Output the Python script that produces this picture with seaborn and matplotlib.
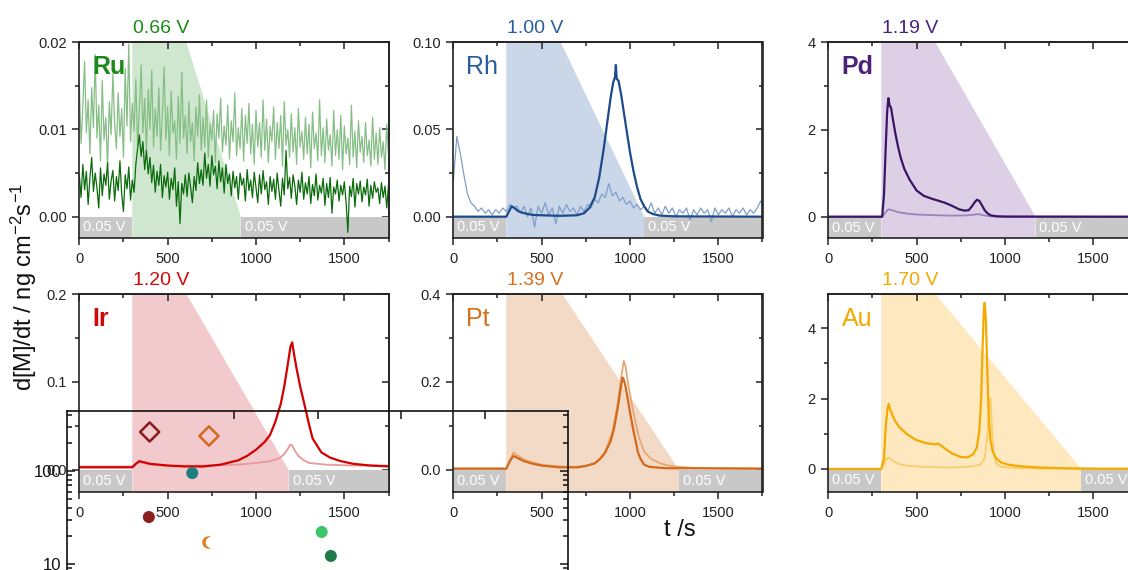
import numpy as np
import matplotlib.pyplot as plt
from matplotlib.path import Path
from matplotlib.ticker import MultipleLocator, FixedLocator, LogLocator, FuncFormatter, NullFormatter, FormatStrFormatter
import seaborn as sns

# ---------------------------------------------------------------- data
elements = ['Ru', 'Rh', 'Pd', 'Ir', 'Pt', 'Au']
upper_potential = ['0.66 V', '1.00 V', '1.19 V', '1.20 V', '1.39 V', '1.70 V']
hold_label = '0.05 V'
step_start = 300                                   # s
ramp_top_time = [606, 608, 606, 606, 617, 606]      # s, where ramp leaves the frame top
ramp_end_time = [914, 1080, 1173, 1185, 1278, 1433]  # s, back at 0.05 V

# Ru traces, sampled every 10 s from 0 to 1760 s (values in 1e-3 ng cm-2 s-1)
t_ru = np.arange(0, 1761, 10)
ru_dark = np.array([
    4.8, 2.2, 6.0, 3.1, 5.2, 1.4, 4.4, 6.8, 2.9, 5.0,
    3.3, 1.0, 5.6, 2.4, 4.9, 3.6, 6.2, 2.0, 4.1, 5.3,
    1.8, 4.6, 3.0, 6.4, 2.6, 0.6, 4.8, 3.2, 5.7, 1.9,
    4.2, 2.8, 6.0, 7.8, 9.4, 6.9, 8.6, 5.4, 7.6, 4.9,
    6.8, 3.9, 5.9, 2.8, 5.2, 3.6, 6.0, 2.2, 4.7, 3.4,
    5.1, 2.0, 4.4, 3.1, 5.6, 1.2, 4.0, -0.8, 3.8, 2.6,
    4.8, 2.3, 5.0, 3.4, 1.6, 4.6, 3.0, 6.2, 3.8, 5.4,
    3.6, 7.3, 4.4, 6.0, 3.5, 7.0, 4.8, 5.8, 3.2, 6.4,
    4.0, 5.6, 2.7, 6.0, 3.8, 4.9, 2.4, 5.2, 3.3, 4.6,
    2.0, 5.0, 3.6, 4.4, 1.8, 5.4, 3.0, 4.2, 2.2, 5.1,
    3.4, 1.6, 4.8, 2.6, 5.3, 3.1, 4.0, 1.4, 4.6, 2.9,
    4.3, 2.0, 5.0, 3.0, 1.2, 4.4, 2.5, 7.6, 3.2, 4.5,
    2.1, 4.8, 3.5, 1.4, 4.2, 2.8, 5.1, 2.0, 3.9, 2.6,
    4.6, 1.5, 3.7, 2.4, 4.9, 1.9, 3.6, 2.7, 4.4, 1.3,
    3.8, 2.2, 4.5, 0.4, 3.4, 2.6, 4.2, 1.8, 3.6, 2.5,
    4.0, 1.6, -1.8, 3.5, 2.3, 4.4, 1.1, 3.8, 2.6, 4.1,
    1.7, 3.4, 2.5, 4.3, 1.2, 3.6, 2.1, 4.0, 2.8, 3.3,
    1.5, 3.9, 2.2, 3.5, 1.0, 3.6, 2.4]) * 1e-3
ru_light = np.array([
    15.2, 8.4, 12.6, 17.8, 9.6, 13.4, 7.2, 14.8, 10.2, 18.6,
    9.0, 12.8, 6.4, 15.6, 8.8, 11.4, 5.8, 13.2, 9.4, 16.4,
    10.6, 7.8, 14.2, 9.2, 12.4, 6.8, 17.0, 10.4, 19.8, 8.6,
    13.0, 9.8, 15.8, 8.2, 12.2, 17.4, 9.6, 13.6, 7.4, 14.6,
    10.0, 16.8, 8.0, 12.4, 9.2, 14.8, 7.6, 11.8, 17.2, 8.8,
    12.6, 7.0, 14.4, 9.6, 11.0, 6.6, 13.8, 8.4, 16.6, 9.0,
    11.6, 7.2, 13.2, 8.6, 10.8, 6.4, 12.6, 9.2, 14.0, 7.6,
    11.4, 8.0, 13.4, 6.8, 10.6, 8.8, 12.2, 6.2, 11.8, 9.0,
    13.6, 7.4, 10.4, 8.2, 12.8, 6.6, 11.0, 8.6, 14.2, 7.0,
    10.2, 7.8, 12.4, 6.4, 11.6, 8.4, 13.0, 7.2, 10.6, 6.0,
    12.2, 8.0, 10.8, 6.8, 13.4, 7.6, 11.2, 6.2, 10.4, 8.6,
    12.6, 6.6, 10.8, 7.8, 11.6, 5.8, 13.2, 8.2, 10.0, 6.8,
    11.8, 7.4, 10.2, 6.0, 12.4, 8.0, 9.8, 6.6, 11.4, 7.2,
    10.6, 5.6, 12.0, 7.8, 9.6, 6.4, 13.4, 7.0, 10.2, 6.2,
    11.2, 7.6, 9.4, 5.8, 12.2, 7.0, 10.0, 6.6, 11.6, 5.4,
    10.4, 7.2, 9.0, 6.0, 12.8, 6.8, 9.8, 5.6, 11.0, 7.4,
    9.2, 6.2, 10.8, 7.0, 8.8, 5.8, 11.4, 6.6, 9.6, 6.0,
    10.2, 6.8, 8.6, 5.4, 10.6, 7.0, 9.2]) * 1e-3

# Rh faint trace, every 20 s
t_rh = np.arange(0, 1761, 20)
rh_light = np.array([
    0.020, 0.046, 0.036, 0.024, 0.013, 0.008, 0.006, 0.003, 0.005, 0.002, 0.004, 0.001,
    0.004, 0.002, 0.005, 0.003, 0.007, 0.005, 0.006, 0.002, 0.006, 0.000, 0.005, -0.006,
    0.006, 0.002, 0.008, 0.001, 0.005, -0.004, 0.006, 0.002, 0.007, 0.003, 0.005, 0.001,
    0.006, 0.003, 0.007, 0.005, 0.010, 0.008, 0.013, 0.011, 0.019, 0.012, 0.014, 0.009,
    0.011, 0.007, 0.009, 0.005, 0.007, 0.004, 0.006, 0.003, 0.008, 0.002, 0.005, 0.001,
    0.006, 0.002, 0.005, 0.000, 0.004, 0.002, 0.005, -0.002, 0.004, 0.001, 0.005, 0.002,
    0.004, -0.003, 0.005, 0.001, 0.004, 0.002, 0.005, 0.000, 0.004, 0.002, 0.005, 0.001,
    0.004, 0.002, 0.005, 0.009, 0.003])

# smooth traces: (time, value)
rh_dark_t = [0, 300, 315, 330, 345, 370, 400, 450, 500, 600, 700, 740, 770, 800, 825, 850, 870,
             890, 905, 915, 920, 925, 935, 950, 965, 980, 1000, 1020, 1040, 1060, 1080, 1100,
             1130, 1170, 1250, 1760]
rh_dark_v = [0, 0, 0.003, 0.006, 0.005, 0.003, 0.002, 0.001, 0.0008, 0.0005, 0.0008, 0.002,
             0.005, 0.011, 0.022, 0.038, 0.053, 0.068, 0.077, 0.080, 0.087, 0.079, 0.078,
             0.070, 0.060, 0.050, 0.037, 0.026, 0.017, 0.010, 0.006, 0.003, 0.0015, 0.0006,
             0.0002, 0]

pd_dark_t = [0, 305, 315, 325, 333, 340, 347, 355, 365, 380, 395, 410, 430, 460, 500, 540, 580,
             620, 660, 700, 740, 770, 795, 815, 830, 842, 855, 870, 885, 900, 920, 950, 1000, 1760]
pd_dark_v = [0, 0, 0.5, 1.6, 2.4, 2.72, 2.55, 2.5, 2.25, 1.9, 1.6, 1.35, 1.1, 0.85, 0.6, 0.48,
             0.42, 0.37, 0.32, 0.25, 0.17, 0.14, 0.15, 0.25, 0.34, 0.39, 0.36, 0.26, 0.15, 0.08,
             0.03, 0.01, 0.003, 0]
pd_light_t = [0, 305, 320, 340, 360, 400, 450, 500, 600, 700, 780, 830, 850, 880, 920, 1000, 1760]
pd_light_v = [0, 0, 0.08, 0.17, 0.15, 0.10, 0.07, 0.05, 0.035, 0.025, 0.03, 0.05, 0.06, 0.03,
              0.01, 0.0, 0]

ir_dark_t = [0, 300, 320, 340, 360, 400, 450, 500, 600, 700, 800, 900, 950, 1000, 1050, 1080,
             1110, 1140, 1160, 1180, 1195, 1205, 1215, 1230, 1250, 1270, 1300, 1320, 1370, 1420,
             1480, 1550, 1650, 1760]
ir_dark_v = [0.003, 0.003, 0.007, 0.010, 0.009, 0.007, 0.006, 0.005, 0.004, 0.004, 0.006, 0.011,
             0.016, 0.023, 0.032, 0.040, 0.055, 0.075, 0.095, 0.120, 0.140, 0.145, 0.132, 0.115,
             0.095, 0.078, 0.052, 0.036, 0.020, 0.014, 0.010, 0.007, 0.005, 0.004]
ir_light_t = [0, 300, 320, 340, 360, 400, 500, 700, 900, 1000, 1080, 1130, 1160, 1180, 1195,
              1205, 1220, 1240, 1270, 1300, 1400, 1550, 1760]
ir_light_v = [0.004, 0.004, 0.007, 0.009, 0.008, 0.006, 0.005, 0.005, 0.006, 0.008, 0.010,
              0.013, 0.018, 0.024, 0.029, 0.028, 0.022, 0.016, 0.011, 0.008, 0.006, 0.005, 0.005]

pt_dark_t = [0, 300, 320, 340, 360, 400, 450, 500, 600, 700, 750, 800, 830, 860, 890, 910, 930,
             945, 958, 965, 975, 990, 1005, 1020, 1035, 1045, 1060, 1080, 1110, 1200, 1760]
pt_dark_v = [0.003, 0.003, 0.020, 0.032, 0.028, 0.020, 0.014, 0.010, 0.006, 0.006, 0.009,
             0.015, 0.025, 0.040, 0.065, 0.095, 0.140, 0.180, 0.210, 0.205, 0.190, 0.155,
             0.120, 0.088, 0.060, 0.040, 0.025, 0.012, 0.007, 0.004, 0.003]
pt_light_t = [0, 300, 320, 340, 360, 400, 450, 500, 600, 700, 750, 800, 850, 900, 930, 950, 965,
              975, 990, 1010, 1030, 1050, 1080, 1120, 1170, 1220, 1280, 1350, 1450, 1760]
pt_light_v = [0.003, 0.003, 0.022, 0.040, 0.034, 0.024, 0.017, 0.012, 0.008, 0.007, 0.010,
              0.015, 0.032, 0.085, 0.150, 0.210, 0.248, 0.235, 0.195, 0.150, 0.110, 0.075,
              0.042, 0.025, 0.015, 0.010, 0.007, 0.005, 0.004, 0.003]

au_dark_t = [0, 300, 315, 325, 335, 342, 350, 365, 380, 400, 425, 450, 500, 550, 600, 620, 640,
             660, 700, 750, 790, 820, 840, 855, 865, 873, 880, 885, 892, 900, 908, 918, 930,
             950, 980, 1020, 1100, 1200, 1350, 1500, 1760]
au_dark_v = [0, 0, 0.3, 1.2, 1.7, 1.85, 1.7, 1.5, 1.35, 1.2, 1.08, 0.97, 0.82, 0.74, 0.70, 0.72,
             0.66, 0.58, 0.44, 0.34, 0.33, 0.42, 0.6, 1.1, 2.0, 3.4, 4.5, 4.72, 4.2, 2.8, 1.5,
             0.8, 0.5, 0.3, 0.18, 0.12, 0.07, 0.04, 0.02, 0.01, 0.005]
au_light_t = [0, 300, 315, 330, 345, 370, 400, 450, 500, 600, 700, 800, 860, 885, 900, 910, 918,
              926, 935, 950, 980, 1050, 1200, 1760]
au_light_v = [0, 0, 0.12, 0.30, 0.32, 0.22, 0.14, 0.09, 0.07, 0.05, 0.04, 0.07, 0.12, 0.3, 0.9,
              1.8, 2.0, 1.2, 0.5, 0.15, 0.06, 0.03, 0.01, 0.0]

traces = {
    'Ru': [(t_ru, ru_light, 'light'), (t_ru, ru_dark, 'dark')],
    'Rh': [(t_rh, rh_light, 'light'), (rh_dark_t, rh_dark_v, 'dark')],
    'Pd': [(pd_light_t, pd_light_v, 'light'), (pd_dark_t, pd_dark_v, 'dark')],
    'Ir': [(ir_light_t, ir_light_v, 'light'), (ir_dark_t, ir_dark_v, 'dark')],
    'Pt': [(pt_light_t, pt_light_v, 'light'), (pt_dark_t, pt_dark_v, 'dark')],
    'Au': [(au_light_t, au_light_v, 'light'), (au_dark_t, au_dark_v, 'dark')],
}

# overlaid log-scale fragment
inset_open_x = [0.99, 1.70]
inset_open_y = [263, 238]
inset_open_names = ['a', 'b']
inset_dot_x = [1.50, 0.98, 3.05, 3.16]
inset_dot_y = [95, 32, 22.1, 12.2]
inset_dot_names = ['c', 'd', 'e', 'f']
inset_moon_x = [1.69]
inset_moon_y = [17.3]

# ---------------------------------------------------------------- style
W, H = 1128, 570
sns.set_theme(style='ticks')
plt.rcParams['font.family'] = ['Liberation Sans', 'DejaVu Sans']
plt.rcParams['mathtext.default'] = 'regular'

colors = {
    'Ru': dict(dark='#0b6b0b', light='#86bf86', shade='#cfe7cf', text='#1a8a1a'),
    'Rh': dict(dark='#1c4a8a', light='#7f9fcb', shade='#c9d7e9', text='#2a5d9f'),
    'Pd': dict(dark='#3b1466', light='#9d83bd', shade='#ddd0e6', text='#4a2278'),
    'Ir': dict(dark='#d40000', light='#e79a9a', shade='#f2c9cd', text='#cc0a0a'),
    'Pt': dict(dark='#d2691c', light='#e6a872', shade='#f3dac6', text='#d4701e'),
    'Au': dict(dark='#f4aa00', light='#f8cd6a', shade='#fde8bf', text='#f5a800'),
}
label_weight = {'Ru': 'bold', 'Rh': 'normal', 'Pd': 'bold', 'Ir': 'bold', 'Pt': 'normal', 'Au': 'normal'}
ylims = {'Ru': (-0.00248, 0.02), 'Rh': (-0.0124, 0.10), 'Pd': (-0.495, 4),
         'Ir': (-0.0247, 0.2), 'Pt': (-0.0494, 0.4), 'Au': (-0.645, 4.97)}
ysteps = {'Ru': (0.01, 0.005, '%.2f'), 'Rh': (0.05, 0.025, '%.2f'), 'Pd': (2, 1, '%d'),
          'Ir': (0.1, 0.05, '%.1f'), 'Pt': (0.2, 0.1, '%.1f'), 'Au': (2, 1, '%d')}
XMAX = 1750
GRAY = '#c8c8c8'

# panel frames in pixels
col_left = [79.3, 453.3, 828.3]
col_w = 309.2
row_tb = [(42.3, 238.3), (294.0, 491.7)]

fig = plt.figure(figsize=(W / 100, H / 100), dpi=100)


def px_axes(left, top, right, bottom):
    return fig.add_axes([left / W, 1 - bottom / H, (right - left) / W, (bottom - top) / H])


def style_ticks(axis_obj, which_len=(5, 3)):
    axis_obj.tick_params(which='major', length=which_len[0])
    axis_obj.tick_params(which='minor', length=which_len[1])


for i, el in enumerate(elements):
    r, c = divmod(i, 3)
    top, bottom = row_tb[r]
    ax = px_axes(col_left[c], top, col_left[c] + col_w, bottom)
    col = colors[el]
    ymin, ymax = ylims[el]

    # potential programme: hold at 0.05 V, step up, ramp back down
    ax.fill([step_start, step_start, ramp_top_time[i], ramp_end_time[i], ramp_end_time[i]],
            [ymin, ymax, ymax, 0, ymin], color=col['shade'], lw=0, zorder=0)
    ax.fill_between([0, step_start], ymin, 0, color=GRAY, lw=0, zorder=1)
    ax.fill_between([ramp_end_time[i], XMAX], ymin, 0, color=GRAY, lw=0, zorder=1)
    for x0 in (0, ramp_end_time[i]):
        ax.text(x0 + 22, ymin / 2, hold_label, color='white', fontsize=10.5,
                ha='left', va='center', zorder=2)

    noisy = el in ('Ru', 'Rh')
    for t, v, kind in traces[el]:
        if noisy and (kind == 'light' or el == 'Ru'):
            lw = 0.9
        else:
            lw = 1.3 if kind == 'light' else 1.6
        sns.lineplot(x=np.asarray(t), y=np.asarray(v), ax=ax, color=col[kind],
                     lw=lw, estimator=None, sort=False, zorder=3)

    ax.set_xlim(0, XMAX)
    ax.set_ylim(ymin, ymax)
    major, minor, fmt = ysteps[el]
    ax.xaxis.set_major_locator(MultipleLocator(500))
    ax.xaxis.set_minor_locator(MultipleLocator(250))
    ax.yaxis.set_major_locator(MultipleLocator(major))
    ax.yaxis.set_minor_locator(MultipleLocator(minor))
    ax.yaxis.set_major_formatter(FormatStrFormatter(fmt))
    ax.tick_params(which='both', direction='out', colors='#222222', labelsize=10.5, width=1.1)
    style_ticks(ax)
    ax.tick_params(axis='y', pad=4)
    ax.tick_params(axis='x', pad=5)
    for s in ax.spines.values():
        s.set_linewidth(1.2)
        s.set_color('#222222')
        s.set_zorder(5)

    # mirrored inward ticks on top / right
    sec_x = ax.secondary_xaxis('top')
    sec_x.xaxis.set_major_locator(MultipleLocator(500))
    sec_x.xaxis.set_minor_locator(MultipleLocator(250))
    sec_x.tick_params(which='both', direction='in', labeltop=False, width=1.1, colors='#222222')
    style_ticks(sec_x)
    sec_x.spines['top'].set_linewidth(1.2)
    sec_y = ax.secondary_yaxis('right')
    sec_y.yaxis.set_major_locator(MultipleLocator(major))
    sec_y.yaxis.set_minor_locator(MultipleLocator(minor))
    sec_y.tick_params(which='both', direction='in', labelright=False, width=1.1, colors='#222222')
    style_ticks(sec_y)
    sec_y.spines['right'].set_linewidth(1.2)

    ax.set_xlabel('')
    ax.set_ylabel('')
    ax.annotate(el, xy=(0, 1), xycoords='axes fraction', xytext=(9.5, -23),
                textcoords='offset points', ha='left', va='baseline',
                fontsize=18, color=col['text'], fontweight=label_weight[el])
    ax.annotate(upper_potential[i], xy=(465, 1), xycoords=('data', 'axes fraction'),
                xytext=(0, 6.5), textcoords='offset points', ha='center', va='baseline',
                fontsize=14, color=col['text'], annotation_clip=False)

fig.text(24 / W, 1 - 287 / H, 'd[M]/dt / ng cm$^{-2}$s$^{-1}$', rotation=90,
         ha='center', va='center', fontsize=17, color='#111111')
fig.text(680 / W, 1 - 530 / H, 't /s', ha='center', va='center', fontsize=17, color='#111111')

# ---------------------------------------------------------------- overlaid log fragment
ax_in = px_axes(67, 411, 568, 600)
ax_in.set_facecolor('none')
ax_in.set_yscale('log')
ax_in.set_xlim(0, 6)
ax_in.set_ylim(4.1, 442)

sns.scatterplot(x=inset_open_x, y=inset_open_y, hue=inset_open_names, ax=ax_in, marker='D',
                s=95, linewidth=1.8, legend=False,
                palette={'a': '#8b1a1a', 'b': '#d2691c'})
ax_in.collections[-1].set_facecolor('none')
ax_in.collections[-1].set_edgecolor(['#8b1a1a', '#d2691c'])

sns.scatterplot(x=inset_dot_x, y=inset_dot_y, hue=inset_dot_names, ax=ax_in, marker='o',
                s=75, linewidth=0, legend=False,
                palette={'c': '#1f7f80', 'd': '#8b1e1e', 'e': '#3cc46a', 'f': '#1e7a48'})

# crescent marker (a circle partly hidden)
a_out = np.linspace(np.radians(64), np.radians(296), 40)
a_in = np.linspace(np.radians(269), np.radians(91), 40)
moon = np.vstack([np.column_stack([np.cos(a_out), np.sin(a_out)]),
                  np.column_stack([0.45 + 0.9 * np.cos(a_in), 0.9 * np.sin(a_in)])])
sns.scatterplot(x=inset_moon_x, y=inset_moon_y, ax=ax_in, marker=Path(moon, closed=False),
                s=80, color='#d9801c', linewidth=0, legend=False)

ax_in.xaxis.set_major_locator(FixedLocator([2, 3, 4, 5]))
ax_in.yaxis.set_major_locator(LogLocator(base=10))
ax_in.yaxis.set_minor_locator(LogLocator(base=10, subs=np.arange(2, 10)))
ax_in.yaxis.set_major_formatter(FuncFormatter(lambda v, p: f'{v:g}'))
ax_in.yaxis.set_minor_formatter(NullFormatter())
ax_in.tick_params(which='both', direction='in', left=True, right=True, top=True, bottom=False,
                  labelbottom=False, labelleft=True, colors='#111111', width=1.1, labelsize=12)
style_ticks(ax_in, (6, 3.5))
ax_in.tick_params(axis='y', pad=4)
for s in ax_in.spines.values():
    s.set_linewidth(1.2)
    s.set_color('#111111')
ax_in.set_xlabel('')
ax_in.set_ylabel('')

fig.savefig('out.png', dpi=100)
